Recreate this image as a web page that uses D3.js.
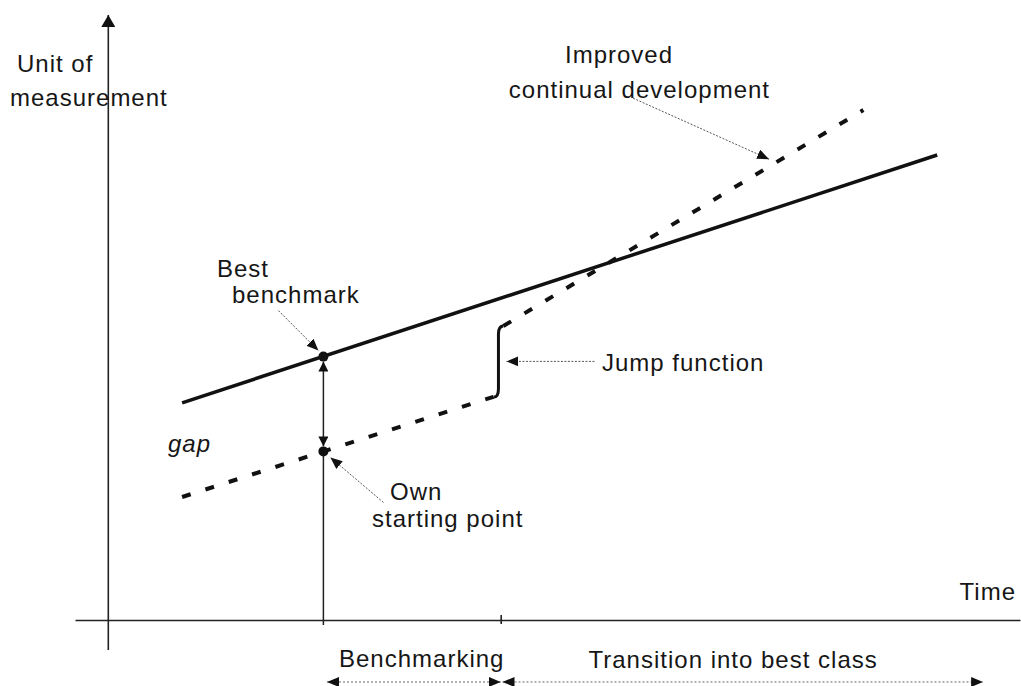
<!DOCTYPE html>
<html>
<head>
<meta charset="utf-8">
<script src="https://cdn.jsdelivr.net/npm/d3@7"></script>
<style>
  body { margin: 0; background: #fff; }
  text { font-family: "Liberation Sans", Arial, Helvetica, sans-serif; font-size: 24px; fill: #161616; letter-spacing: 1px; }
</style>
</head>
<body>
<div id="chart"></div>
<script>
const width = 1021;
const height = 686;

// [time, value] in arbitrary units
const bestPractice = [[8.2, 36.2], [92.1, 77.5]];
const ownDevelopment = [[8.2, 20.5], [42.8, 37.2]];
const improvedDevelopment = [[43.9, 49], [83.9, 85]];
const bestBenchmark = [23.9, 43.9];
const ownStart = [23.9, 28.1];
const jumpTime = 43.35;
const improvedAnchor = [74.2, 76.3];

const phaseTicks = [43.6];
const phaseNames = ["Benchmarking", "Transition into best class"];
const phaseStart = [24.3, 43.8];
const phaseEnd = [43.6, 97.2];

const svg = d3.select("#chart")
  .append("svg")
  .attr("width", width)
  .attr("height", height);

const x = d3.scaleLinear().domain([-3.7, 101.3]).range([75, 1020]);
const y = d3.scaleLinear().domain([-5, 100.83]).range([650, 15]);

const defs = svg.append("defs");
function marker(id, len, wid) {
  defs.append("marker")
    .attr("id", id)
    .attr("viewBox", `0 0 ${len} ${wid}`)
    .attr("refX", len)
    .attr("refY", wid / 2)
    .attr("markerWidth", len)
    .attr("markerHeight", wid)
    .attr("markerUnits", "userSpaceOnUse")
    .attr("orient", "auto-start-reverse")
    .append("path")
    .attr("d", `M0,0L${len},${wid / 2}L0,${wid}Z`)
    .attr("fill", "#111");
}
marker("head", 12, 10);
marker("axisHead", 12, 14);
marker("smallHead", 10, 10);

// axes
const xAxis = d3.axisBottom(x).tickValues(phaseTicks).tickSize(4).tickSizeOuter(0).tickFormat("");
svg.append("g")
  .attr("transform", `translate(0, ${y(0)})`)
  .call(xAxis)
  .call(g => g.select(".domain").attr("stroke", "#222").attr("stroke-width", 1.6))
  .call(g => g.selectAll(".tick line").attr("y1", -5).attr("stroke", "#222").attr("stroke-width", 1.6));

svg.append("line")
  .attr("x1", x(0)).attr("x2", x(0))
  .attr("y1", y.range()[0]).attr("y2", y.range()[1])
  .attr("stroke", "#222").attr("stroke-width", 1.6)
  .attr("marker-end", "url(#axisHead)");

// development lines
const line = d3.line().x(d => x(d[0])).y(d => y(d[1]));

svg.append("path")
  .attr("d", line(bestPractice))
  .attr("fill", "none").attr("stroke", "#111").attr("stroke-width", 3.5);

[ownDevelopment, improvedDevelopment].forEach(series => {
  svg.append("path")
    .attr("d", line(series))
    .attr("fill", "none").attr("stroke", "#111").attr("stroke-width", 4)
    .attr("stroke-dasharray", "9,15.5");
});

// jump bracket
const jb = [x(ownDevelopment[1][0]), y(ownDevelopment[1][1])];
const jt = [x(improvedDevelopment[0][0]), y(improvedDevelopment[0][1])];
const jx = x(jumpTime);
svg.append("path")
  .attr("d", `M${jb[0]},${jb[1]}Q${jx},${jb[1] + 1} ${jx},${jb[1] - 8}L${jx},${jt[1] + 8}Q${jx},${jt[1]} ${jt[0]},${jt[1]}`)
  .attr("fill", "none").attr("stroke", "#111").attr("stroke-width", 3);

// benchmark gap
const bx = x(bestBenchmark[0]);
const by = y(bestBenchmark[1]);
const oy = y(ownStart[1]);
svg.append("line")
  .attr("x1", bx).attr("x2", bx)
  .attr("y1", oy).attr("y2", y(0) + 5)
  .attr("stroke", "#222").attr("stroke-width", 1.5);
svg.append("line")
  .attr("x1", bx).attr("x2", bx)
  .attr("y1", by + 5).attr("y2", oy - 5)
  .attr("stroke", "#222").attr("stroke-width", 1.5)
  .attr("marker-start", "url(#smallHead)")
  .attr("marker-end", "url(#smallHead)");

svg.selectAll("circle.pt")
  .data([bestBenchmark, ownStart])
  .enter()
  .append("circle")
  .attr("class", "pt")
  .attr("cx", d => x(d[0]))
  .attr("cy", d => y(d[1]))
  .attr("r", 5)
  .attr("fill", "#111");

// annotation arrows
function pointer(x1, y1, x2, y2) {
  svg.append("line")
    .attr("x1", x1).attr("y1", y1)
    .attr("x2", x2).attr("y2", y2)
    .attr("stroke", "#555").attr("stroke-width", 1)
    .attr("stroke-dasharray", "2,1.5")
    .attr("marker-end", "url(#head)");
}
pointer(bx - 45, by - 46, bx - 5, by - 6);
pointer(bx + 60, oy + 51, bx + 7, oy + 6);
const jm = (jb[1] + jt[1]) / 2;
pointer(jx + 96, jm, jx + 8, jm);
const ia = [x(improvedAnchor[0]), y(improvedAnchor[1])];
pointer(ia[0] - 143, ia[1] - 64, ia[0] - 7, ia[1] - 3);

// phase arrows below the time axis
const py = y(0) + 62;
phaseNames.forEach((name, i) => {
  svg.append("line")
    .attr("x1", x(phaseStart[i])).attr("x2", x(phaseEnd[i]))
    .attr("y1", py).attr("y2", py)
    .attr("stroke", "#666").attr("stroke-width", 1)
    .attr("stroke-dasharray", "2,2")
    .attr("marker-start", "url(#head)")
    .attr("marker-end", "url(#head)");
});
svg.append("text").attr("x", x(phaseStart[0]) + 12).attr("y", y(0) + 47).text(phaseNames[0]);
svg.append("text").attr("x", x(phaseStart[1]) + 86).attr("y", y(0) + 48).text(phaseNames[1]);

// labels
svg.append("text").attr("x", 17).attr("y", 72).text("Unit of");
svg.append("text").attr("x", 10).attr("y", 106).text("measurement");
svg.append("text").attr("x", 1016).attr("y", 600).attr("text-anchor", "end").text("Time");
svg.append("text").attr("x", 565).attr("y", 63).text("Improved");
svg.append("text").attr("x", 770).attr("y", 98).attr("text-anchor", "end").text("continual development");
svg.append("text").attr("x", 217).attr("y", 277).text("Best");
svg.append("text").attr("x", 232).attr("y", 303).text("benchmark");
svg.append("text").attr("x", 168).attr("y", 452).attr("font-style", "italic").text("gap");
svg.append("text").attr("x", 390).attr("y", 500).text("Own");
svg.append("text").attr("x", 372).attr("y", 527).text("starting point");
svg.append("text").attr("x", 602).attr("y", 371).text("Jump function");
</script>
</body>
</html>
